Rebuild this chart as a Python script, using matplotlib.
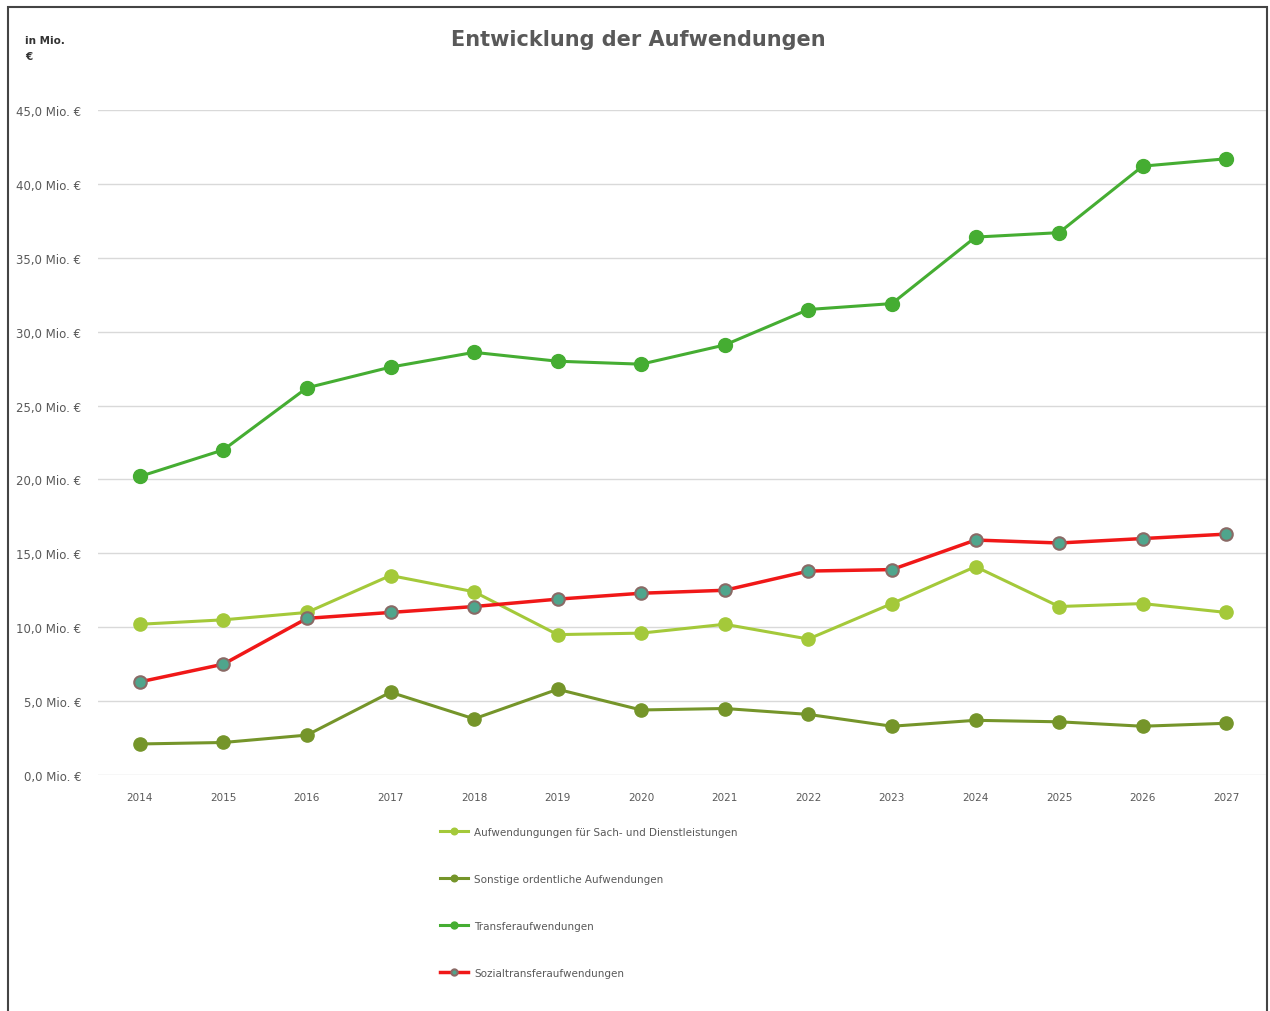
import matplotlib
matplotlib.use('Agg')
import matplotlib.pyplot as plt
from matplotlib.patches import Rectangle
import numpy as np

years = ['2014', '2015', '2016', '2017', '2018', '2019', '2020',
         '2021', '2022', '2023', '2024', '2025', '2026', '2027']

sach = [10.2, 10.5, 11.0, 13.5, 12.4, 9.5, 9.6, 10.2, 9.2, 11.6, 14.1, 11.4, 11.6, 11.0]
sonstige = [2.1, 2.2, 2.7, 5.6, 3.8, 5.8, 4.4, 4.5, 4.1, 3.3, 3.7, 3.6, 3.3, 3.5]
transfer = [20.2, 22.0, 26.2, 27.6, 28.6, 28.0, 27.8, 29.1, 31.5, 31.9, 36.4, 36.7, 41.2, 41.7]
sozial = [6.3, 7.5, 10.6, 11.0, 11.4, 11.9, 12.3, 12.5, 13.8, 13.9, 15.9, 15.7, 16.0, 16.3]

labels = ['Aufwendungungen für Sach- und Dienstleistungen',
          'Sonstige ordentliche Aufwendungen',
          'Transferaufwendungen',
          'Sozialtransferaufwendungen']

TXT = '#595959'

fig = plt.figure(figsize=(12.7, 10.12), dpi=100)
fig.patches.append(Rectangle((8/1270, -0.01), 1259/1270, 1 - 8/1012 + 0.01,
                             transform=fig.transFigure, fill=False,
                             edgecolor='#444444', linewidth=1.5))

ax = fig.add_axes([98/1270, 1 - 776/1012, 1170/1270, 665/1012])
x = np.arange(len(years))

ax.plot(x, sach, color='#a4c93a', lw=2.2, marker='o', ms=9.5, label=labels[0], zorder=3)
ax.plot(x, sonstige, color='#75952a', lw=2.2, marker='o', ms=9.5, label=labels[1], zorder=3)
ax.plot(x, transfer, color='#45ad32', lw=2.2, marker='o', ms=10, label=labels[2], zorder=3)
ax.plot(x, sozial, color='#f01818', lw=2.5, marker='o', ms=9,
        markerfacecolor='#4fa58c', markeredgecolor='#8a6a66', markeredgewidth=1.5,
        label=labels[3], zorder=4)

ax.set_xlim(-0.5, len(years) - 0.5)
ax.set_ylim(0, 45)
ax.set_yticks(np.arange(0, 46, 5))
ax.set_yticklabels([('%.1f' % v).replace('.', ',') + ' Mio. €' for v in np.arange(0, 46, 5)])
ax.set_xticks(x)
ax.set_xticklabels(years)
ax.tick_params(length=0, labelsize=7.5, colors=TXT, pad=12)
ax.tick_params(axis='y', labelsize=8.5, pad=12)
for s in ax.spines.values():
    s.set_visible(False)
ax.grid(axis='y', color='#d9d9d9', lw=1)
ax.set_axisbelow(True)

fig.text(638/1270, 1 - 40/1012, 'Entwicklung der Aufwendungen', ha='center', va='center',
         fontsize=15, fontweight='bold', color=TXT)
fig.text(25/1270, 1 - 49/1012, 'in Mio.\n€', ha='left', va='center',
         fontsize=7.5, fontweight='bold', color='#333333', linespacing=1.7)

leg = ax.legend(loc='upper left', bbox_to_anchor=(440/1270, 1 - 828/1012),
                bbox_transform=fig.transFigure, frameon=False, fontsize=7.5,
                labelspacing=3.55, handlelength=2.7, handletextpad=0.6,
                borderpad=0, borderaxespad=0, markerscale=0.5)
for t in leg.get_texts():
    t.set_color(TXT)

fig.savefig('out.png', dpi=100)
